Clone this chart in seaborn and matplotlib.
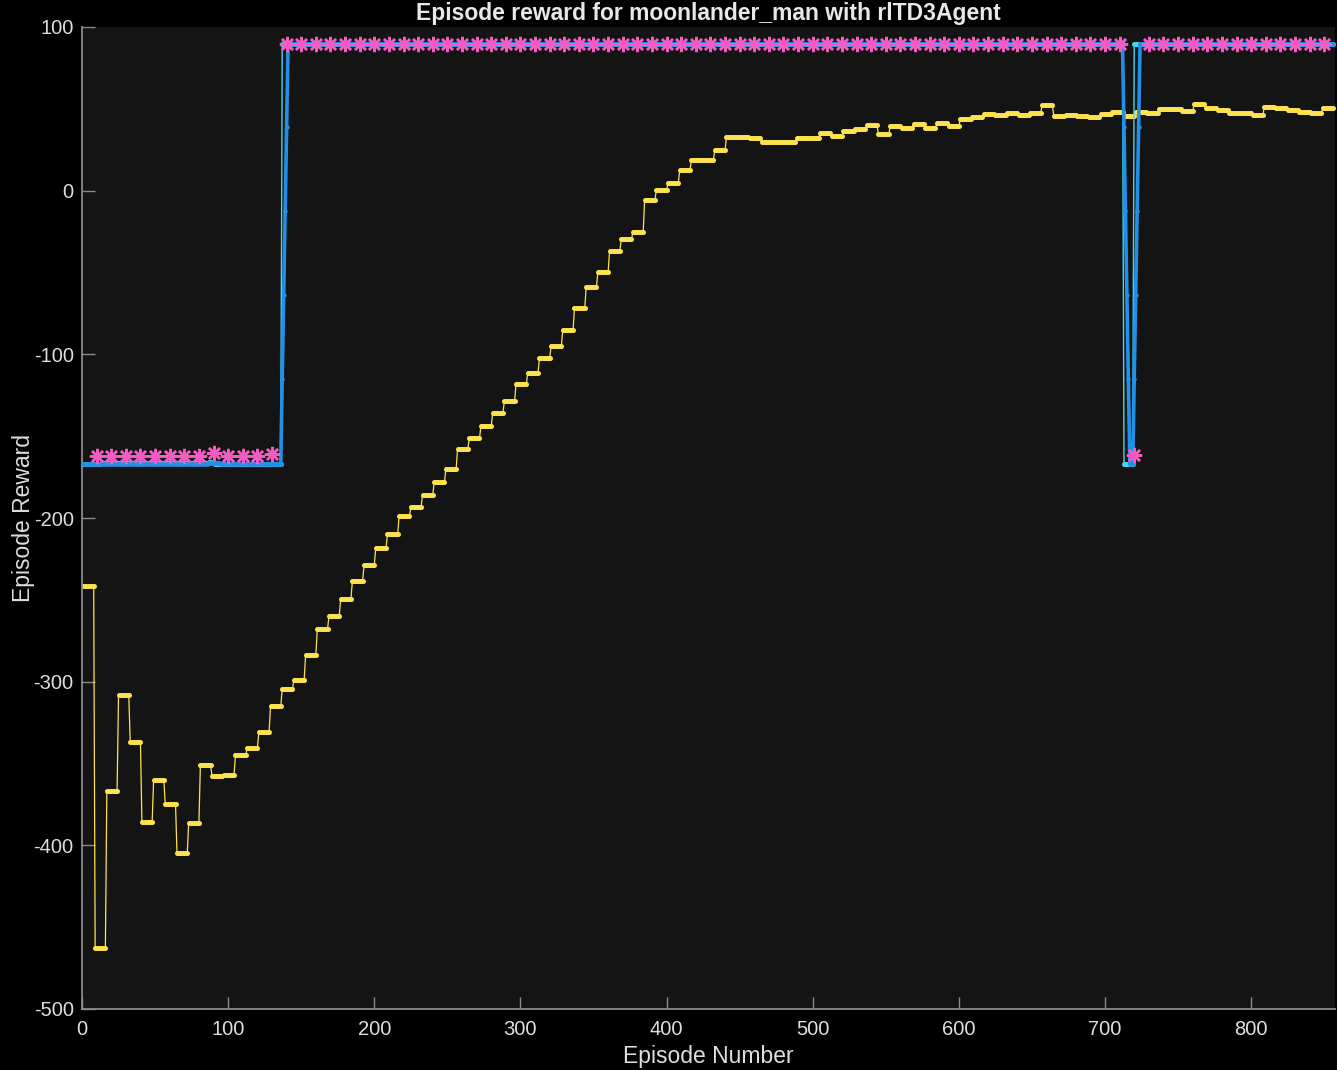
import numpy as np
import pandas as pd
import matplotlib
matplotlib.use('Agg')
import matplotlib.pyplot as plt
import seaborn as sns

# Episode Q0 (yellow), one value per block of 8 episodes
q0_steps = [-241.7, -462.9, -367.0, -308.3, -337.0, -386.0, -360.3, -374.9, -404.9, -386.5,
            -351.1, -357.8, -357.2, -345.0, -340.7, -331.0, -315.0, -304.7, -299.2, -283.9,
            -268.0, -260.0, -249.7, -238.7, -228.9, -218.5, -210.0, -199.0, -193.5, -186.0,
            -178.2, -170.2, -158.0, -151.3, -144.0, -136.0, -128.7, -118.3, -111.6, -102.4,
            -95.1, -85.3, -71.9, -59.0, -49.9, -37.0, -29.7, -25.4, -5.9, 0.2,
            4.5, 12.4, 18.6, 18.6, 24.7, 32.6, 32.6, 32.0, 29.6, 29.6,
            29.6, 32.0, 32.0, 35.0, 33.2, 36.3, 37.5, 40.0, 34.4, 39.3,
            38.1, 40.6, 38.1, 41.2, 39.3, 43.6, 44.8, 46.7, 46.0, 47.3,
            46.0, 47.3, 52.2, 45.4, 46.0, 45.4, 44.8, 46.7, 47.9, 45.4,
            47.9, 47.3, 49.7, 49.7, 48.5, 52.8, 50.3, 49.1, 47.3, 47.3,
            46.0, 50.9, 50.3, 49.1, 47.9, 47.3, 50.3]
episodes_per_step = 8

# Episode reward (thin cyan), as runs of equal values
reward_levels = [-167.3, -166.6, -165.6, -166.8, 89.6, -166.8, 89.6]
reward_runs = [12, 74, 4, 46, 576, 7, 137]

# Average reward (thick blue), as runs
avg_levels = [-167.3, -166.8, -166.2, -166.8, -115.0, -63.7, -12.4, 39.0, 89.6,
              39.0, -12.4, -63.7, -115.0, -166.8, -115.0, -63.7, -12.4, 39.0, 89.6]
avg_runs = [12, 74, 8, 42, 1, 1, 1, 1, 572, 1, 1, 1, 1, 3, 1, 1, 1, 1, 133]

# Evaluation statistic (pink asterisks), every 10 episodes
eval_every = 10
eval_levels = [-162.0, -160.5, -162.0, -161.0, 89.6, -161.5, 89.6]
eval_runs = [8, 1, 3, 1, 58, 1, 13]

q0 = np.repeat(q0_steps, episodes_per_step)
reward = np.repeat(reward_levels, reward_runs)
avg = np.repeat(avg_levels, avg_runs)
ev = np.repeat(eval_levels, eval_runs)
ep = np.arange(1, len(reward) + 1)

df = pd.DataFrame({'episode': ep, 'q0': q0, 'reward': reward, 'avg': avg})
df_eval = pd.DataFrame({'episode': np.arange(1, len(ev) + 1) * eval_every, 'eval': ev})

sns.set_style('dark')
plt.rcParams['font.family'] = ['Liberation Sans', 'DejaVu Sans']
plt.rcParams['axes.unicode_minus'] = False

fig = plt.figure(figsize=(13.37, 10.70), dpi=100, facecolor='black')
ax = fig.add_axes([82 / 1337, 61 / 1070, 1253 / 1337, 982 / 1070])
ax.set_facecolor('#141414')

yellow = '#FDE24F'
cyan = '#45d6ee'
blue = '#2290e6'
pink = '#f45cc4'

sns.lineplot(df, x='episode', y='q0', ax=ax, color=yellow, linewidth=0.9,
             marker='o', markersize=3.6, markeredgewidth=0, estimator=None, zorder=2)
sns.lineplot(df, x='episode', y='reward', ax=ax, color=cyan, linewidth=1.0,
             marker='o', markersize=3.6, markeredgewidth=0, estimator=None, zorder=3)
sns.lineplot(df, x='episode', y='avg', ax=ax, color=blue, linewidth=2.6,
             marker='o', markersize=3.2, markeredgewidth=0, estimator=None, zorder=4)
sns.lineplot(df_eval, x='episode', y='eval', ax=ax, color=pink, linestyle='none',
             marker=(8, 2, 0), markersize=11, markeredgewidth=1.8,
             markeredgecolor=pink, estimator=None, zorder=5)

ax.set_xlim(0, 857.4)
ax.set_ylim(-500, 100)
ax.set_xticks(np.arange(0, 801, 100))
ax.set_yticks(np.arange(-500, 101, 100))

for s in ['top', 'right']:
    ax.spines[s].set_visible(False)
for s in ['left', 'bottom']:
    ax.spines[s].set_visible(True)
    ax.spines[s].set_color('#8a8a8a')
    ax.spines[s].set_linewidth(1.3)

ax.tick_params(axis='both', which='major', direction='in', length=9, width=1.0,
               color='#8a8a8a', labelcolor='#dedede', labelsize=14.5, pad=6,
               bottom=True, left=True)
ax.tick_params(axis='x', pad=8)
ax.grid(False)

ax.set_title('Episode reward for moonlander_man with rlTD3Agent', color='#e8e8e8',
             fontsize=16.5, fontweight='bold', pad=5)
ax.set_xlabel('Episode Number', color='#dedede', fontsize=16.5, labelpad=4)
ax.set_ylabel('Episode Reward', color='#dedede', fontsize=16.5, labelpad=-1)

fig.savefig('out.png', dpi=100, facecolor='black')
